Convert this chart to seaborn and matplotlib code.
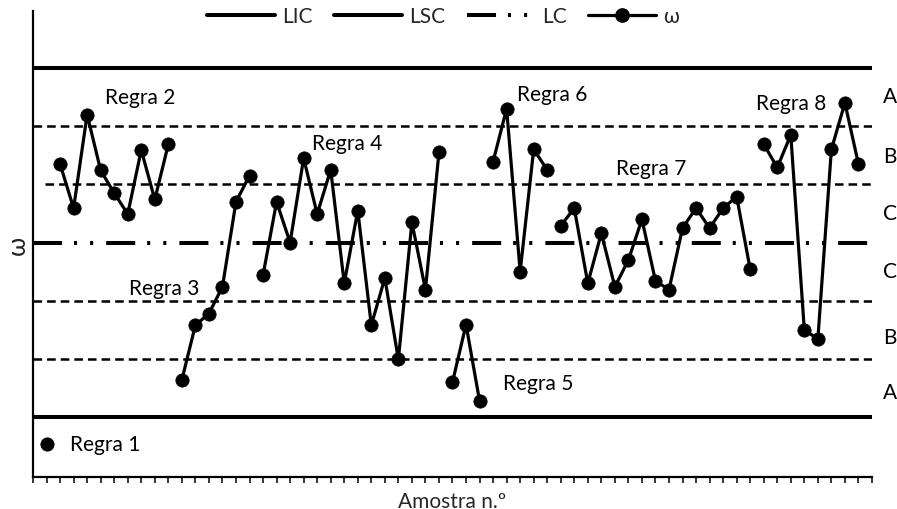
import numpy as np
import pandas as pd
import matplotlib
matplotlib.use("Agg")
import matplotlib.pyplot as plt
import seaborn as sns
from matplotlib.lines import Line2D

# ---------------- data ----------------
regra_names = ["Regra 1", "Regra 2", "Regra 3", "Regra 4",
               "Regra 5", "Regra 6", "Regra 7", "Regra 8"]

regra1_amostra = [1]
regra1_w = [-3.46]

regra2_amostra = [2, 3, 4, 5, 6, 7, 8, 9, 10]
regra2_w = [1.35, 0.59, 2.20, 1.24, 0.85, 0.49, 1.59, 0.74, 1.69]

regra3_amostra = [11, 12, 13, 14, 15, 16]
regra3_w = [-2.36, -1.42, -1.22, -0.76, 0.70, 1.15]

regra4_amostra = [17, 18, 19, 20, 21, 22, 23, 24, 25, 26, 27, 28, 29, 30]
regra4_w = [-0.56, 0.70, 0.00, 1.45, 0.49, 1.25, -0.70, 0.55, -1.42, -0.61,
            -2.01, 0.35, -0.81, 1.55]

regra5_amostra = [31, 32, 33]
regra5_w = [-2.40, -1.41, -2.72]

regra6_amostra = [34, 35, 36, 37, 38]
regra6_w = [1.39, 2.30, -0.50, 1.60, 1.25]

regra7_amostra = [39, 40, 41, 42, 43, 44, 45, 46, 47, 48, 49, 50, 51, 52, 53]
regra7_w = [0.29, 0.59, -0.70, 0.16, -0.76, -0.30, 0.40, -0.66, -0.81, 0.25,
            0.59, 0.25, 0.59, 0.79, -0.46]

regra8_amostra = [54, 55, 56, 57, 58, 59, 60, 61]
regra8_w = [1.69, 1.29, 1.85, -1.50, -1.66, 1.60, 2.40, 1.35]

LIC = -3.0
LC = 0.0
LSC = 3.0
zone_lines = [-2.0, -1.0, 1.0, 2.0]
zone_letters = ["A", "B", "C", "C", "B", "A"]
legend_labels = ["LIC", "LSC", "LC", "ω"]
n_amostras = 62

# ---------------- layout / style ----------------
label_pos = [(2.75, -3.46), (5.3, 2.50), (7.1, -0.78), (20.6, 1.71),
             (34.7, -2.42), (35.75, 2.56), (43.1, 1.28), (53.4, 2.40)]
zone_letter_y = [2.52, 1.49, 0.51, -0.49, -1.62, -2.57]

sns.set_theme(style="white")
plt.rcParams["font.family"] = ["Lato", "Noto Sans", "DejaVu Sans"]
plt.rcParams["lines.scale_dashes"] = False
FS = 15

amostras = [regra1_amostra, regra2_amostra, regra3_amostra, regra4_amostra,
            regra5_amostra, regra6_amostra, regra7_amostra, regra8_amostra]
ws = [regra1_w, regra2_w, regra3_w, regra4_w,
      regra5_w, regra6_w, regra7_w, regra8_w]
df = pd.concat([pd.DataFrame({"amostra": a, "w": w, "regra": name})
                for a, w, name in zip(amostras, ws, regra_names)],
               ignore_index=True)

fig = plt.figure(figsize=(8.97, 5.10), dpi=100)
ax = fig.add_axes([0.0368, 0.0627, 0.9353, 0.9138])

LW_LIM = 2.9
LC_DASH = (0, (20.9, 8.6, 2.2, 9.4, 2.2, 9.4))
ZONE_DASH = (0, (6.2, 3.6))

ax.axhline(LSC, color="black", lw=LW_LIM, zorder=2)
ax.axhline(LIC, color="black", lw=LW_LIM, zorder=2)
ax.axhline(LC, color="black", lw=LW_LIM, linestyle=LC_DASH, zorder=2)
for z in zone_lines:
    xmin = 0.0143 if z == 1.0 else 0.0
    ax.axhline(z, xmin=xmin, color="black", lw=1.8, linestyle=ZONE_DASH, zorder=2)

sns.lineplot(data=df, x="amostra", y="w", units="regra", estimator=None,
             sort=False, color="black", marker="o", markersize=9.6,
             markeredgecolor="black", markeredgewidth=0.5, linewidth=2.3,
             legend=False, ax=ax, zorder=3)

for name, (tx, ty) in zip(regra_names, label_pos):
    ax.text(tx, ty, name, fontsize=FS, ha="left", va="center", color="black")

for letter, ly in zip(zone_letters, zone_letter_y):
    ax.text(63.3, ly, letter, fontsize=FS, ha="center", va="center",
            color="black", clip_on=False)

ax.set_xlim(0, n_amostras)
ax.set_ylim(-4.03, 3.98)
ax.set_xticks(np.arange(0, n_amostras + 1))
ax.set_xticklabels([])
ax.set_yticks([])
ax.tick_params(axis="x", direction="out", length=4.3, width=1.1,
               color="black", bottom=True)
for side in ["top", "right"]:
    ax.spines[side].set_visible(False)
for side in ["left", "bottom"]:
    ax.spines[side].set_color("black")
    ax.spines[side].set_linewidth(1.6)

ax.set_xlabel("Amostra n.º", fontsize=FS, labelpad=2)
ax.set_ylabel("ω", fontsize=18, labelpad=3)

handles = [
    Line2D([], [], color="black", lw=LW_LIM),
    Line2D([], [], color="black", lw=LW_LIM),
    Line2D([], [], color="black", lw=LW_LIM, linestyle=LC_DASH),
    Line2D([], [], color="black", lw=2.3, marker="o", markersize=9.6),
]
ax.legend(handles, legend_labels, loc="center", bbox_to_anchor=(0.489, 0.989),
          ncol=4, frameon=False, fontsize=FS, handlelength=3.26,
          handletextpad=0.34, columnspacing=1.03, borderpad=0, borderaxespad=0)

fig.savefig("out.png", dpi=100)
